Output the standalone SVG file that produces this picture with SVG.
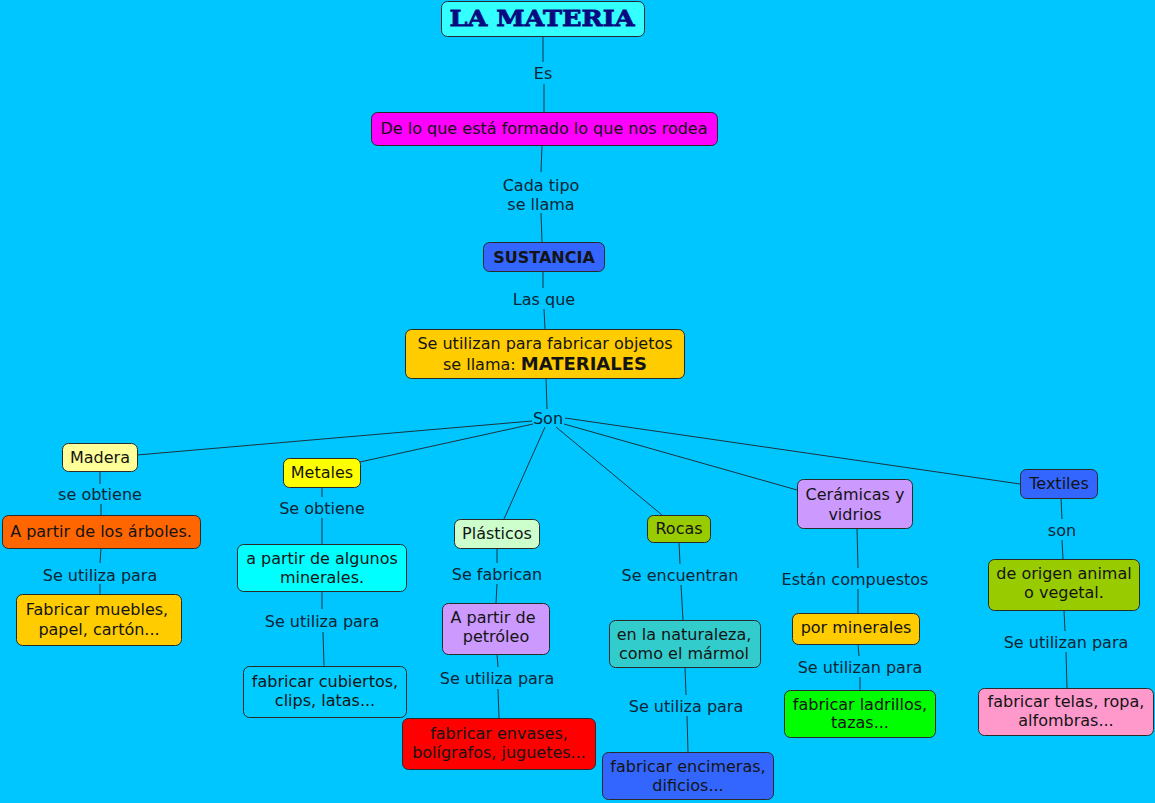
<svg xmlns="http://www.w3.org/2000/svg" width="1155" height="803" viewBox="0 0 1155 803">
<style>
.n{stroke:#2a2a2a;stroke-width:1}
.t{font-family:"DejaVu Sans",Verdana,sans-serif;font-size:16px;fill:#141414;text-anchor:middle}
.l{font-family:"DejaVu Sans",Verdana,sans-serif;font-size:16px;fill:#0b2535;text-anchor:middle}
.c line{stroke:#1b3340;stroke-width:1}
</style>
<rect width="1155" height="803" fill="#00C6FF"/>
<g class="c" id="connectors">
<line x1="543" y1="36" x2="543" y2="62"/><line x1="544" y1="84" x2="544" y2="112"/>
<line x1="542" y1="145" x2="541" y2="172"/><line x1="541" y1="213" x2="542" y2="242"/>
<line x1="543" y1="271" x2="543" y2="288"/><line x1="544" y1="309" x2="545" y2="329"/>
<line x1="546" y1="378" x2="547" y2="409"/>
<line x1="532" y1="421" x2="137" y2="455"/>
<line x1="533" y1="424" x2="360" y2="462"/>
<line x1="545" y1="427" x2="504" y2="519"/>
<line x1="556" y1="427" x2="662" y2="515"/>
<line x1="564" y1="424" x2="797" y2="490"/>
<line x1="565" y1="418" x2="1020" y2="484"/>
<line x1="100" y1="471" x2="100" y2="484"/><line x1="101" y1="504" x2="101" y2="515"/>
<line x1="101" y1="548" x2="100" y2="563"/><line x1="100" y1="584" x2="100" y2="594"/>
<line x1="322" y1="487" x2="322" y2="497"/><line x1="322" y1="518" x2="322" y2="544"/>
<line x1="322" y1="591" x2="322" y2="609"/><line x1="323" y1="632" x2="324" y2="666"/>
<line x1="497" y1="548" x2="497" y2="563"/><line x1="497" y1="584" x2="496" y2="603"/>
<line x1="497" y1="654" x2="498" y2="667"/><line x1="498" y1="689" x2="499" y2="718"/>
<line x1="679" y1="542" x2="680" y2="564"/><line x1="681" y1="585" x2="683" y2="620"/>
<line x1="685" y1="667" x2="686" y2="695"/><line x1="687" y1="716" x2="688" y2="752"/>
<line x1="857" y1="528" x2="858" y2="568"/><line x1="858" y1="589" x2="858" y2="613"/>
<line x1="858" y1="644" x2="859" y2="656"/><line x1="860" y1="677" x2="860" y2="690"/>
<line x1="1061" y1="498" x2="1062" y2="519"/><line x1="1062" y1="540" x2="1063" y2="559"/>
<line x1="1064" y1="610" x2="1065" y2="631"/><line x1="1066" y1="652" x2="1067" y2="688"/>
</g>
<g id="labels">
<text class="l" x="543" y="79">Es</text>
<text class="l" x="541" y="191">Cada tipo</text>
<text class="l" x="541" y="210">se llama</text>
<text class="l" x="544" y="305">Las que</text>
<text class="l" x="548" y="424">Son</text>
<text class="l" x="100" y="500">se obtiene</text>
<text class="l" x="100" y="581">Se utiliza para</text>
<text class="l" x="322" y="514">Se obtiene</text>
<text class="l" x="322" y="627">Se utiliza para</text>
<text class="l" x="497" y="580">Se fabrican</text>
<text class="l" x="497" y="684">Se utiliza para</text>
<text class="l" x="680" y="581">Se encuentran</text>
<text class="l" x="686" y="712">Se utiliza para</text>
<text class="l" x="855" y="585">Están compuestos</text>
<text class="l" x="860" y="673">Se utilizan para</text>
<text class="l" x="1062" y="536">son</text>
<text class="l" x="1066" y="648">Se utilizan para</text>
</g>
<g id="n-materia"><rect class="n" x="441.5" y="1.5" width="203" height="35" rx="6" fill="#33FFFF"/>
<text x="542" y="26" font-family="'DejaVu Serif',serif" font-weight="bold" font-size="23" fill="#0a0a80" stroke="#0a0a80" stroke-width="0.8" text-anchor="middle" textLength="185" lengthAdjust="spacingAndGlyphs">LA MATERIA</text></g>
<g id="n-delo"><rect class="n" x="371.5" y="112.5" width="346" height="33" rx="6" fill="#FF00FF"/>
<text class="t" x="544" y="134">De lo que está formado lo que nos rodea</text></g>
<g id="n-sustancia"><rect class="n" x="483.5" y="242.5" width="121" height="29" rx="6" fill="#3366FF"/>
<text class="t" x="544" y="263" font-weight="bold">SUSTANCIA</text></g>
<g id="n-materiales"><rect class="n" x="405.5" y="329.5" width="279" height="49" rx="6" fill="#FFCC00"/>
<text class="t" x="545" y="349">Se utilizan para fabricar objetos</text>
<text class="t" x="545" y="370">se llama: <tspan font-weight="bold" font-size="18">MATERIALES</tspan></text></g>
<g id="n-madera"><rect class="n" x="62.5" y="443.5" width="75" height="28" rx="6" fill="#FFFF99"/>
<text class="t" x="100" y="463">Madera</text></g>
<g id="n-arboles"><rect class="n" x="2.5" y="515.5" width="198" height="33" rx="6" fill="#FF6600"/>
<text class="t" x="101" y="537">A partir de los árboles.</text></g>
<g id="n-muebles"><rect class="n" x="16.5" y="594.5" width="165" height="51" rx="6" fill="#FFCC00"/>
<text class="t" x="97" y="615">Fabricar muebles,</text>
<text class="t" x="99" y="635">papel, cartón...</text></g>
<g id="n-metales"><rect class="n" x="283.5" y="458.5" width="77" height="29" rx="6" fill="#FFFF00"/>
<text class="t" x="322" y="478">Metales</text></g>
<g id="n-minerales"><rect class="n" x="237.5" y="544.5" width="169" height="47" rx="6" fill="#00FFFF"/>
<text class="t" x="322" y="564">a partir de algunos</text>
<text class="t" x="322" y="583">minerales.</text></g>
<g id="n-cubiertos"><rect class="n" x="243.5" y="666.5" width="163" height="51" rx="6" fill="#00CCFF"/>
<text class="t" x="325" y="687">fabricar cubiertos,</text>
<text class="t" x="325" y="706">clips, latas...</text></g>
<g id="n-plasticos"><rect class="n" x="454.5" y="519.5" width="85" height="29" rx="6" fill="#CCFFCC"/>
<text class="t" x="497" y="539">Plásticos</text></g>
<g id="n-petroleo"><rect class="n" x="442.5" y="603.5" width="107" height="51" rx="6" fill="#CC99FF"/>
<text class="t" x="493" y="623">A partir de</text>
<text class="t" x="496" y="642">petróleo</text></g>
<g id="n-envases"><rect class="n" x="402.5" y="718.5" width="193" height="51" rx="6" fill="#FF0000"/>
<text class="t" x="499" y="739">fabricar envases,</text>
<text class="t" x="499" y="758">bolígrafos, juguetes...</text></g>
<g id="n-rocas"><rect class="n" x="647.5" y="515.5" width="63" height="27" rx="6" fill="#99CC00"/>
<text class="t" x="679" y="534">Rocas</text></g>
<g id="n-naturaleza"><rect class="n" x="609.5" y="620.5" width="151" height="47" rx="6" fill="#33CCCC"/>
<text class="t" x="684" y="640">en la naturaleza,</text>
<text class="t" x="684" y="659">como el mármol</text></g>
<g id="n-encimeras"><rect class="n" x="602.5" y="752.5" width="171" height="47" rx="6" fill="#3366FF"/>
<text class="t" x="688" y="772">fabricar encimeras,</text>
<text class="t" x="688" y="791">dificios...</text></g>
<g id="n-ceramicas"><rect class="n" x="797.5" y="479.5" width="115" height="49" rx="6" fill="#CC99FF"/>
<text class="t" x="855" y="500">Cerámicas y</text>
<text class="t" x="855" y="520">vidrios</text></g>
<g id="n-porminerales"><rect class="n" x="792.5" y="613.5" width="127" height="31" rx="6" fill="#FFCC00"/>
<text class="t" x="856" y="633">por minerales</text></g>
<g id="n-ladrillos"><rect class="n" x="784.5" y="690.5" width="151" height="47" rx="6" fill="#00FF00"/>
<text class="t" x="860" y="710">fabricar ladrillos,</text>
<text class="t" x="860" y="728">tazas...</text></g>
<g id="n-textiles"><rect class="n" x="1020.5" y="469.5" width="77" height="29" rx="6" fill="#3366FF"/>
<text class="t" x="1059" y="489">Textiles</text></g>
<g id="n-origen"><rect class="n" x="988.5" y="559.5" width="151" height="51" rx="6" fill="#99CC00"/>
<text class="t" x="1064" y="579">de origen animal</text>
<text class="t" x="1064" y="598">o vegetal.</text></g>
<g id="n-telas"><rect class="n" x="978.5" y="688.5" width="175" height="47" rx="6" fill="#FF99CC"/>
<text class="t" x="1066" y="707">fabricar telas, ropa,</text>
<text class="t" x="1066" y="726">alfombras...</text></g>
</svg>
